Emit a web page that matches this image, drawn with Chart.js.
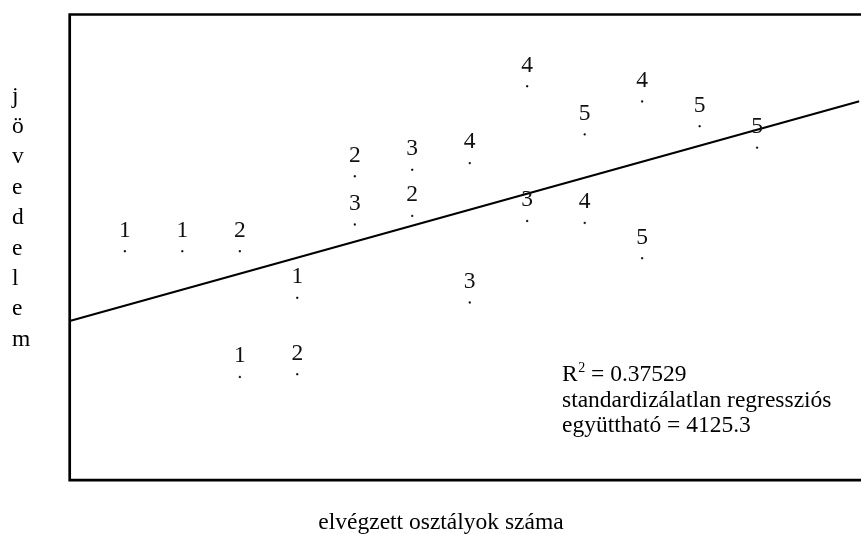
<!DOCTYPE html>
<html>
<head>
<meta charset="utf-8">
<script src="https://cdn.jsdelivr.net/npm/chart.js@4/dist/chart.umd.min.js"></script>
<style>
html,body{margin:0;padding:0;background:#fff;}
#wrap{width:861px;height:534px;position:relative;}
</style>
</head>
<body>
<div id="wrap"><canvas id="c" width="861" height="534"></canvas></div>
<script>
// ---- data ----
const xValues = [1, 2, 3, 4, 3, 4, 5, 5, 6, 6, 7, 7, 8, 8, 9, 9, 10, 10, 11, 12];
const yValues = [59, 59, 59, 47, 26.6, 27.3, 78.3, 65.9, 80, 68.1, 81.7, 45.8, 101.5, 66.8, 89.1, 66.3, 97.6, 57.2, 91.2, 85.7];
const groupLabels = ['1','1','2','1','1','2','2','3','3','2','4','3','4','3','5','4','4','5','5','5'];
const xAxisTitle = 'elvégzett osztályok száma';
const yAxisTitle = 'jövedelem';
const rSquaredText = '0.37529';
const coefLine1 = 'standardizálatlan regressziós';
const coefLine2 = 'együttható = 4125.3';
const xMin = 0.04, xMax = 13.78, yMin = 0, yMax = 120;

// OLS fit from the points
const n = xValues.length;
const mx = xValues.reduce((a, b) => a + b, 0) / n;
const my = yValues.reduce((a, b) => a + b, 0) / n;
let sxy = 0, sxx = 0;
for (let i = 0; i < n; i++) { sxy += (xValues[i] - mx) * (yValues[i] - my); sxx += (xValues[i] - mx) ** 2; }
const slope = sxy / sxx;
const intercept = my - slope * mx;

const points = xValues.map((x, i) => ({ x: x, y: yValues[i] }));
const regLine = [{ x: xMin, y: intercept + slope * xMin }, { x: xMax, y: intercept + slope * xMax }];

const FONT = '"Liberation Serif", "Times New Roman", serif';

const decor = {
  id: 'decor',
  afterDatasetsDraw(chart) {
    const ctx = chart.ctx;
    const a = chart.chartArea;
    ctx.save();
    // frame (left, top, bottom)
    ctx.strokeStyle = '#000';
    ctx.lineWidth = 2.7;
    ctx.lineCap = 'square';
    ctx.beginPath();
    ctx.moveTo(chart.width + 5, a.top);
    ctx.lineTo(a.left, a.top);
    ctx.lineTo(a.left, a.bottom);
    ctx.lineTo(chart.width + 5, a.bottom);
    ctx.stroke();

    // point labels
    ctx.fillStyle = '#111';
    ctx.font = '23.5px ' + FONT;
    ctx.textAlign = 'center';
    ctx.textBaseline = 'alphabetic';
    const meta = chart.getDatasetMeta(0);
    meta.data.forEach((pt, i) => {
      ctx.fillText(groupLabels[i], pt.x, pt.y - 14.7);
    });

    // annotation
    ctx.fillStyle = '#000';
    ctx.textAlign = 'left';
    let x0 = 562;
    ctx.font = '23.5px ' + FONT;
    ctx.fillText('R', x0, 381);
    x0 += ctx.measureText('R').width;
    ctx.font = '14px ' + FONT;
    ctx.fillText('2', x0 + 0.5, 372);
    x0 += ctx.measureText('2').width + 0.5;
    ctx.font = '23.5px ' + FONT;
    ctx.fillText(' = ' + rSquaredText, x0, 381);
    ctx.fillText(coefLine1, 562, 406.5);
    ctx.fillText(coefLine2, 562, 432);

    // axis titles
    ctx.textAlign = 'center';
    ctx.fillText(xAxisTitle, 441, 529);
    ctx.textAlign = 'left';
    yAxisTitle.split('').forEach((ch, i) => {
      ctx.fillText(ch, 12, 102.5 + i * 30.4);
    });
    ctx.restore();
  }
};

new Chart(document.getElementById('c'), {
  type: 'scatter',
  data: {
    datasets: [
      {
        data: points,
        pointRadius: 1,
        pointHoverRadius: 1,
        pointStyle: 'rect',
        backgroundColor: '#000',
        borderColor: '#000',
        borderWidth: 0.6
      },
      {
        type: 'line',
        data: regLine,
        borderColor: '#000',
        borderWidth: 2.2,
        pointRadius: 0,
        fill: false,
        tension: 0
      }
    ]
  },
  options: {
    responsive: false,
    animation: false,
    devicePixelRatio: 1,
    layout: { padding: { left: 69.7, top: 14.5, right: 0, bottom: 53.8 } },
    scales: {
      x: { type: 'linear', min: xMin, max: xMax, display: false },
      y: { type: 'linear', min: yMin, max: yMax, display: false }
    },
    plugins: { legend: { display: false }, tooltip: { enabled: false } }
  },
  plugins: [decor]
});
</script>
</body>
</html>
